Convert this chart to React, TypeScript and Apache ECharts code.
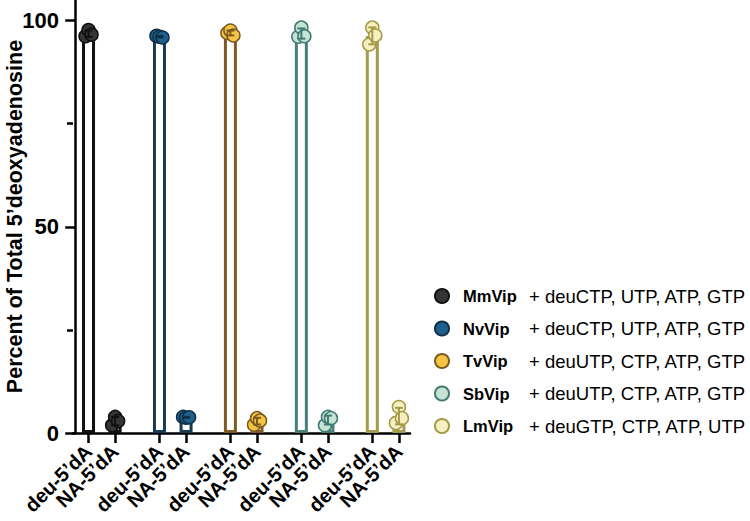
import React, { useEffect, useRef } from "react";
import * as echarts from "echarts";

// ---------- data ----------
const ENZYMES = ["MmVip", "NvVip", "TvVip", "SbVip", "LmVip"];
const SUBSTRATES = [
  "+ deuCTP, UTP, ATP, GTP",
  "+ deuCTP, UTP, ATP, GTP",
  "+ deuUTP, CTP, ATP, GTP",
  "+ deuUTP, CTP, ATP, GTP",
  "+ deuGTP, CTP, ATP, UTP",
];
const CONDITIONS = ["deu-5\u2019dA", "NA-5\u2019dA"];
// three replicates per enzyme (percent of total 5'deoxyadenosine)
const DEU_VALUES = [
  [96.2, 97.7, 96.6],
  [96.3, 96.1, 95.9],
  [97.0, 97.6, 96.4],
  [96.1, 98.3, 96.2],
  [94.2, 98.3, 96.4],
];
const NA_VALUES = [
  [1.9, 3.9, 2.9],
  [3.9, 3.7, 3.8],
  [2.0, 3.6, 3.0],
  [1.9, 3.9, 3.6],
  [2.4, 6.3, 3.6],
];
const Y_MAJOR_TICKS = [0, 50, 100];
const Y_MINOR_TICKS = [25, 75];

// ---------- styles ----------
const FILL = ["#353535", "#1f5f8e", "#f6c444", "#c6e4d3", "#f6efc2"];
const EDGE = ["#111111", "#0f3147", "#7b5a1f", "#3f7a73", "#a39b45"];
const BAR_EDGE = ["#111111", "#163b53", "#7e5b24", "#4a7f78", "#a39c4a"];
const JITTER = [-3, 0, 3];
const FONT = "'Liberation Sans', Arial, Helvetica, sans-serif";

// layout of the x positions (fine grid so that groups are separated)
const SLOT_COUNT = 76;
const GROUP_STRIDE = 16;
const FIRST_SLOT = 3;
const PAIR_STEP = 6;
const X_MIN = -0.5;
const X_MAX = SLOT_COUNT - 0.5;
const slotOf = (g: number, c: number) => g * GROUP_STRIDE + FIRST_SLOT + c * PAIR_STEP;

const mean = (a: number[]) => a.reduce((s, v) => s + v, 0) / a.length;
const sd = (a: number[]) => {
  const m = mean(a);
  return Math.sqrt(a.reduce((s, v) => s + (v - m) * (v - m), 0) / (a.length - 1));
};

export default function App() {
  const ref = useRef<HTMLDivElement>(null);
  useEffect(() => {
    if (!ref.current) return;
    const chart = echarts.init(ref.current, undefined, { renderer: "svg" });

    const labelSlots = new Map<number, string>();
    ENZYMES.forEach((_, g) =>
      CONDITIONS.forEach((c, ci) => labelSlots.set(slotOf(g, ci), c))
    );
    // the two end values carry empty labels; they are dropped by showMin/MaxLabel: false
    const tickSlots = [X_MIN, ...Array.from(labelSlots.keys()).sort((a, b) => a - b), X_MAX];

    const allValues = [DEU_VALUES, NA_VALUES];

    const barData: any[] = [];
    const errData: any[] = [];
    ENZYMES.forEach((_, g) => {
      allValues.forEach((vals, ci) => {
        const arr = vals[g];
        const m = mean(arr);
        const s = sd(arr);
        barData.push({
          value: [slotOf(g, ci), m],
          itemStyle: { color: "#ffffff", borderColor: BAR_EDGE[g], borderWidth: 3 },
        });
        errData.push([slotOf(g, ci), m - s, m + s, g]);
      });
    });

    const scatterSeries = ENZYMES.map((name, g) => ({
      name,
      type: "scatter",
      z: 3,
      symbol: "circle",
      symbolSize: 13,
      itemStyle: { color: FILL[g], borderColor: EDGE[g], borderWidth: 1.5, opacity: 1 },
      data: allValues.flatMap((vals, ci) =>
        vals[g].map((v, k) => ({ value: [slotOf(g, ci), v], symbolOffset: [JITTER[k], 0] }))
      ),
    }));

    const yBase = {
      type: "value",
      min: 0,
      max: 105,
      position: "left",
      splitLine: { show: false },
    };

    chart.setOption({
      animation: false,
      textStyle: { fontFamily: FONT },
      grid: {
        left: 73,
        top: 0,
        width: 337,
        bottom: 88,
        containLabel: false,
        outerBoundsMode: "none",
      },
      legend: {
        orient: "vertical",
        left: 429,
        top: 281,
        icon: "circle",
        itemWidth: 14,
        itemHeight: 14,
        itemGap: 12.5,
        selectedMode: false,
        data: ENZYMES,
        textStyle: {
          padding: [0, 0, 0, 9],
          lineHeight: 20,
          rich: {
            b: { fontWeight: "bold", fontSize: 16.5, width: 66, color: "#000", fontFamily: FONT },
            n: { fontSize: 18.5, color: "#000", fontFamily: FONT },
          },
        },
        formatter: (name: string) => {
          const i = ENZYMES.indexOf(name);
          return `{b|${name}}{n|${SUBSTRATES[i]}}`;
        },
      },
      xAxis: {
        type: "value",
        min: X_MIN,
        max: X_MAX,
        axisLine: { show: true, onZero: false, lineStyle: { color: "#000", width: 2.5 } },
        axisTick: {
          show: true,
          inside: false,
          customValues: tickSlots,
          length: 10,
          lineStyle: { color: "#000", width: 2.5 },
        },
        axisLabel: {
          show: true,
          inside: false,
          customValues: tickSlots,
          showMinLabel: false,
          showMaxLabel: false,
          hideOverlap: false,
          formatter: (v: number) => labelSlots.get(Math.round(v)) ?? "",
          rotate: 45,
          margin: 15,
          color: "#000",
          fontWeight: "bold",
          fontSize: 20,
          fontFamily: FONT,
        },
        splitLine: { show: false },
      },
      yAxis: [
        {
          ...yBase,
          name: "Percent of Total 5\u2019deoxyadenosine",
          nameLocation: "middle",
          nameGap: 47,
          nameMoveOverlap: false,
          nameTextStyle: {
            color: "#000",
            fontWeight: "bold",
            fontSize: 21.5,
            fontFamily: FONT,
          },
          axisLine: { show: true, lineStyle: { color: "#000", width: 2.5 } },
          axisTick: {
            show: true,
            inside: false,
            length: 10,
            customValues: Y_MAJOR_TICKS,
            lineStyle: { color: "#000", width: 2.5 },
          },
          axisLabel: {
            customValues: Y_MAJOR_TICKS,
            showMinLabel: true,
            showMaxLabel: true,
            margin: 14,
            color: "#000",
            fontWeight: "bold",
            fontSize: 22,
            fontFamily: FONT,
          },
        },
        {
          ...yBase,
          axisLine: { show: false },
          axisTick: {
            show: true,
            inside: false,
            length: 6,
            customValues: Y_MINOR_TICKS,
            lineStyle: { color: "#000", width: 2.5 },
          },
          axisLabel: { show: false },
        },
      ],
      series: [
        {
          type: "bar",
          z: 2,
          barWidth: 13,
          data: barData,
        },
        ...scatterSeries,
        {
          type: "custom",
          z: 4,
          encode: { x: 0, y: [1, 2] },
          renderItem: (params: any, api: any) => {
            const x = api.value(0);
            const lo = api.coord([x, api.value(1)]);
            const hi = api.coord([x, api.value(2)]);
            const color = EDGE[api.value(3)];
            const cap = 4;
            const st = { stroke: color, lineWidth: 2 };
            return {
              type: "group",
              children: [
                { type: "line", shape: { x1: lo[0], y1: lo[1], x2: hi[0], y2: hi[1] }, style: st },
                { type: "line", shape: { x1: lo[0] - cap, y1: lo[1], x2: lo[0] + cap, y2: lo[1] }, style: st },
                { type: "line", shape: { x1: hi[0] - cap, y1: hi[1], x2: hi[0] + cap, y2: hi[1] }, style: st },
              ],
            };
          },
          data: errData,
        },
      ],
    });

    return () => chart.dispose();
  }, []);
  return (
    <div
      ref={ref}
      style={{ position: "absolute", left: 0, top: 0, width: 750, height: 521, background: "#fff" }}
    />
  );
}
